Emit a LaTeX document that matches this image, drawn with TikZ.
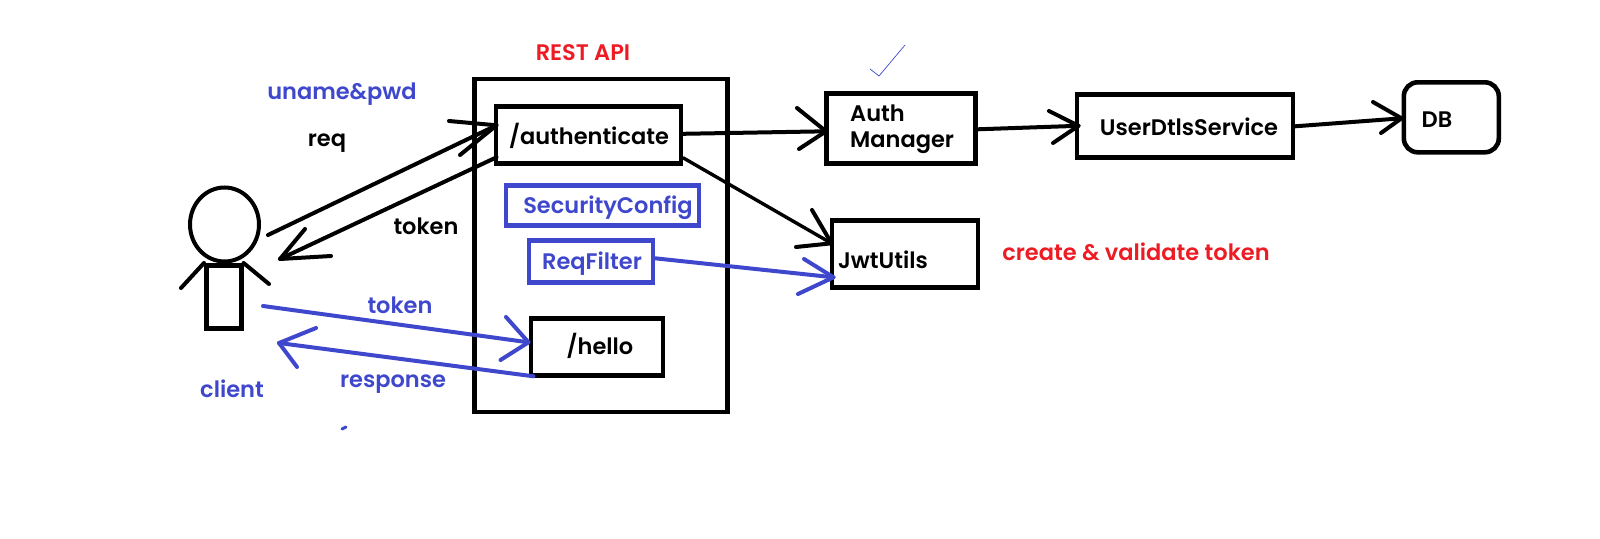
\documentclass[tikz,border=0pt]{standalone}
\usepackage{fontspec}
\setmainfont[BoldFont={Poppins SemiBold}]{Poppins}
\usetikzlibrary{calc,shapes.geometric}
\definecolor{inkblue}{RGB}{63,72,204}
\definecolor{inkred}{RGB}{237,28,36}
\tikzset{
  x=1pt,y=-1pt,
  box/.style={draw=black,line width=4.6pt,fill=white,inner sep=0pt,anchor=north west},
  bluebox/.style={draw=inkblue,line width=4.6pt,fill=white,inner sep=0pt,anchor=north west},
  conn/.style={draw=black,line width=4pt,line cap=round,line join=round},
  bconn/.style={draw=inkblue,line width=4pt,line cap=round,line join=round},
  lab/.style={font=\fontsize{22.5}{25}\selectfont\bfseries,inner sep=0pt,text=black},
  blab/.style={lab,text=inkblue},
  rlab/.style={lab,text=inkred},
}
\begin{document}
\begin{tikzpicture}
\useasboundingbox (0,0) rectangle (1600,538);
% boxes
\node[box,minimum width=253pt,minimum height=333pt] (api) at (472,76.5) {};
\node[box,minimum width=185pt,minimum height=57pt] (auth) at (493.5,104) {};
\node[bluebox,minimum width=193pt,minimum height=40pt] (sec) at (503.5,183) {};
\node[bluebox,minimum width=124pt,minimum height=42pt] (rf) at (526.5,238) {};
\node[box,minimum width=132pt,minimum height=57pt] (hello) at (528.5,316) {};
\node[box,minimum width=149pt,minimum height=70pt] (am) at (824,91) {};
\node[box,minimum width=216pt,minimum height=63pt] (uds) at (1074.5,92) {};
\node[box,minimum width=146pt,minimum height=67pt] (jwt) at (829.5,218) {};
\node[box,rounded corners=14pt,minimum width=95pt,minimum height=70pt] (db) at (1401.5,80) {};
% client
\node[draw=black,line width=4pt,ellipse,minimum width=69pt,minimum height=74pt,inner sep=0pt] (chead) at (224.5,224.5) {};
\node[box,minimum width=35pt,minimum height=63pt] (cbody) at (204,263) {};
\coordinate (larm) at (181,288);
\coordinate (rarm) at (269,284);
\draw[conn] (cbody.north west) -- (larm);
\draw[conn] (cbody.north east) -- (rarm);
% connectors
\coordinate (reqS) at (268,235);
\coordinate (tokE) at (280,259);
\coordinate (btokS) at (263,306);
\coordinate (respE) at (279,343);
\draw[conn] (reqS) -- ([shift={(3pt,9.5pt)}]auth.west) coordinate (t1);
\draw[conn] (449,121) -- (t1) -- (460,155);
\draw[conn] ([shift={(3pt,-22.5pt)}]auth.west) -- (tokE);
\draw[conn] (305,229) -- (tokE) -- (331,256);
\draw[conn] ([yshift=1pt]auth.east) -- ([shift={(2pt,-3pt)}]am.west) coordinate (t2);
\draw[conn] (797,108) -- (t2) -- (799,149);
\draw[conn] ([yshift=-1pt]am.east) -- ([shift={(4pt,0pt)}]uds.west) coordinate (t3);
\draw[conn] (1049,111) -- (t3) -- (1053,143);
\draw[conn] ([yshift=-0.5pt]uds.east) -- ([yshift=-1pt]db.west) coordinate (t4);
\draw[conn] (1373,102) -- (t4) -- (1381,133);
\draw[conn,line width=3.4pt] ([yshift=-23pt]auth.east) -- ([shift={(2pt,10.5pt)}]jwt.west) coordinate (t5);
\draw[conn] (812,210) -- (t5) -- (796,247);
\draw[bconn] ([yshift=3pt]rf.east) -- ([shift={(4pt,-23.5pt)}]jwt.west) coordinate (t6);
\draw[bconn] (804,259) -- (t6) -- (798,294);
\draw[bconn] (btokS) -- ([yshift=4.5pt]hello.west) coordinate (t7);
\draw[bconn] (506,317) -- (t7) -- (500.5,360);
\draw[bconn] ([shift={(5pt,-29.5pt)}]hello.west) -- (respE);
\draw[bconn] (316,328) -- (respE) -- (297,367);
% marks
\draw[inkblue,line width=0.7pt,line join=round] (870,69) -- (879,76) -- (905,45);
\draw[inkblue,line width=3pt,line cap=round] (342,429) -- (346,427);
% labels
\node[rlab] (t-rest) at (583,53) {REST API};
\node[blab] (t-un) at (342,94) {uname\&pwd};
\node[lab] (t-req) at (327,143) {req};
\node[lab] (t-tok) at (426,226) {token};
\node[blab] (t-btok) at (400,305) {token};
\node[blab] (t-resp) at (393,384) {response};
\node[blab] (t-cl) at (232,389) {client};
\node[lab] (t-auth) at (589,136) {/authenticate};
\node[blab] (t-sec) at (608,208) {SecurityConfig};
\node[blab] (t-rf) at (592,264) {ReqFilter};
\node[lab] (t-hello) at (600,346) {/hello};
\node[lab,anchor=west] (t-a1) at (850,113) {Auth};
\node[lab,anchor=west] (t-a2) at (850,143) {Manager};
\node[lab] (t-uds) at (1189,127) {UserDtlsService};
\node[lab] (t-db) at (1437,120) {DB};
\node[lab] (t-jwt) at (883,260) {JwtUtils};
\node[rlab] (t-cr) at (1136,252) {create \& validate token};
\end{tikzpicture}
\end{document}
